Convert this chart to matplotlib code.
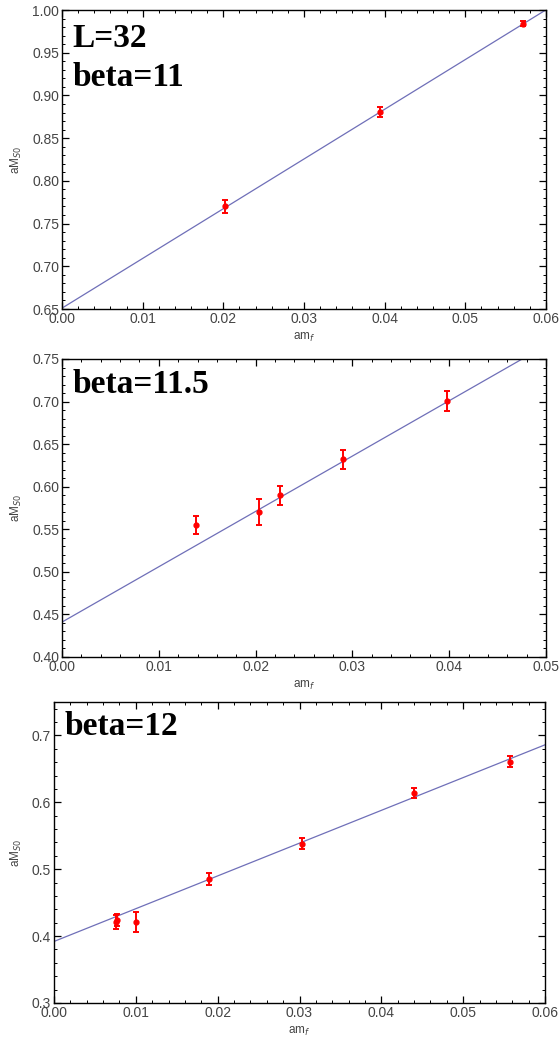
import numpy as np
import matplotlib
matplotlib.use("Agg")
import matplotlib.pyplot as plt
from matplotlib.ticker import MultipleLocator

plt.rcParams['font.family'] = ['Liberation Sans', 'DejaVu Sans']

# beta = 11, L = 32
mf_11 = [0.0202, 0.0394, 0.0572]
m_11 = [0.770, 0.881, 0.984]
err_11 = [0.008, 0.006, 0.003]
fit_11 = (0.651, 5.82)

# beta = 11.5
mf_115 = [0.0138, 0.0203, 0.0225, 0.0290, 0.0398]
m_115 = [0.555, 0.570, 0.590, 0.632, 0.701]
err_115 = [0.011, 0.015, 0.011, 0.011, 0.012]
fit_115 = (0.441, 6.50)

# beta = 12
mf_12 = [0.0076, 0.0077, 0.0100, 0.0190, 0.0303, 0.0440, 0.0557]
m_12 = [0.421, 0.424, 0.421, 0.486, 0.538, 0.614, 0.661]
err_12 = [0.011, 0.009, 0.015, 0.009, 0.008, 0.008, 0.008]
fit_12 = (0.392, 4.90)

W, H = 560, 1044
fig = plt.figure(figsize=(W / 100, H / 100), dpi=100)


def panel(rect, x, y, e, fit, xlim, ylim, ymaj, ymin, yfmt, labels):
    ax = fig.add_axes(rect)
    xx = np.linspace(xlim[0], xlim[1], 50)
    ax.plot(xx, fit[0] + fit[1] * xx, color="#6f6fb8", lw=0.9, zorder=2)
    ax.errorbar(x, y, yerr=e, fmt="o", color="red", ms=3.5, elinewidth=1.4,
                capsize=2.2, capthick=1.4, zorder=3)
    ax.set_xlim(*xlim)
    ax.set_ylim(*ylim)
    ax.xaxis.set_major_locator(MultipleLocator(0.01))
    ax.xaxis.set_minor_locator(MultipleLocator(0.002))
    ax.yaxis.set_major_locator(MultipleLocator(ymaj))
    ax.yaxis.set_minor_locator(MultipleLocator(ymin))
    ax.xaxis.set_major_formatter(plt.FormatStrFormatter("%.2f"))
    ax.yaxis.set_major_formatter(plt.FormatStrFormatter(yfmt))
    ax.tick_params(which="both", direction="in", top=True, right=True,
                   labelsize=10, labelcolor="#444444", pad=2)
    ax.tick_params(which="major", length=5, width=0.9)
    ax.tick_params(which="minor", length=2.5, width=0.7)
    for s in ax.spines.values():
        s.set_linewidth(1.0)
    ax.set_xlabel("am$_f$", fontsize=8.5, color="#444444", labelpad=4)
    ax.set_ylabel("aM$_{S0}$", fontsize=8.5, color="#444444", labelpad=6)
    for txt, ty in labels:
        ax.text(0.022, ty, txt, transform=ax.transAxes, ha="left", va="top",
                fontsize=24, fontweight="bold", family="Liberation Serif")
    return ax


panel([62 / W, 735 / H, 484 / W, 299 / H], mf_11, m_11, err_11, fit_11,
      (0, 0.06), (0.65, 1.0), 0.05, 0.01, "%.2f",
      [("L=32", 0.955), ("beta=11", 0.825)])
panel([62 / W, 387 / H, 484 / W, 298 / H], mf_115, m_115, err_115, fit_115,
      (0, 0.05), (0.40, 0.75), 0.05, 0.01, "%.2f",
      [("beta=11.5", 0.965)])
panel([54 / W, 41 / H, 491 / W, 301 / H], mf_12, m_12, err_12, fit_12,
      (0, 0.06), (0.30, 0.75), 0.1, 0.02, "%.1f",
      [("beta=12", 0.97)])

fig.savefig("out.png", dpi=100)
